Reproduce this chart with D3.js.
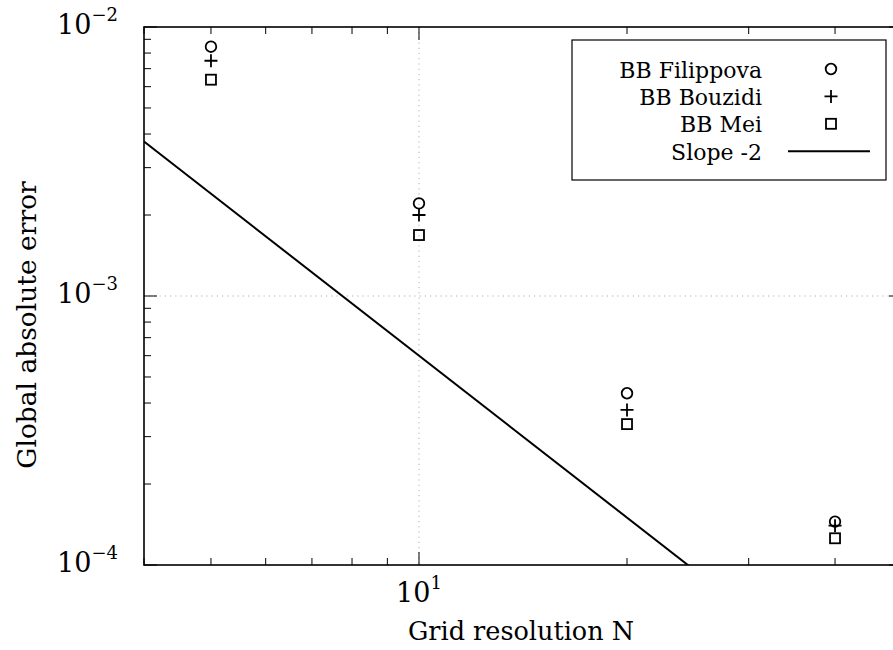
<!DOCTYPE html>
<html>
<head>
<meta charset="utf-8">
<script src="https://cdn.jsdelivr.net/npm/d3@7"></script>
<style>
  body { margin: 0; background: #fff; }
  svg { display: block; font-family: "DejaVu Serif", "Liberation Serif", serif; }
</style>
</head>
<body>
<div id="chart"></div>
<script>
const gridN = [5, 10, 20, 40];
const filippova = [8.45e-3, 2.21e-3, 4.35e-4, 1.45e-4];
const bouzidi = [7.49e-3, 2.0e-3, 3.77e-4, 1.40e-4];
const mei = [6.37e-3, 1.685e-3, 3.34e-4, 1.257e-4];
const slopeN = [4, 50];
const slopeC = 0.06;
const seriesNames = ["BB Filippova", "BB Bouzidi", "BB Mei", "Slope -2"];
const xMajor = [10];
const xMinor = [4, 5, 6, 7, 8, 9, 20, 30, 40];
const yMajor = [1e-2, 1e-3, 1e-4];
const yMinor = [2, 3, 4, 5, 6, 7, 8, 9].flatMap(k => [k * 1e-4, k * 1e-3]);

const width = 893, height = 650;
const margin = { top: 27, right: -9, bottom: 85, left: 144 };

const svg = d3.select("#chart").append("svg")
  .attr("width", width)
  .attr("height", height);

const x = d3.scaleLog().domain([4, 50]).range([margin.left, width - margin.right]);
const y = d3.scaleLog().domain([1e-4, 1e-2]).range([height - margin.bottom, margin.top]);

const [x0, x1] = x.range();
const [y1, y0] = y.range();

svg.append("clipPath").attr("id", "clip")
  .append("rect")
  .attr("x", x0).attr("y", y0)
  .attr("width", x1 - x0).attr("height", y1 - y0);

// grid
svg.append("g")
  .selectAll("line")
  .data(xMajor)
  .join("line")
  .attr("x1", d => x(d)).attr("x2", d => x(d))
  .attr("y1", y0).attr("y2", y1)
  .attr("stroke", "#b0b0b0").attr("stroke-dasharray", "1.2,4");

svg.append("g")
  .selectAll("line")
  .data([1e-3])
  .join("line")
  .attr("x1", x0).attr("x2", x1)
  .attr("y1", d => y(d)).attr("y2", d => y(d))
  .attr("stroke", "#b0b0b0").attr("stroke-dasharray", "1.2,4");

// ticks (inside, mirrored)
const majorLen = 13, minorLen = 7;
const ticks = svg.append("g").attr("stroke", "#000").attr("stroke-width", 1);
const xt = [...xMajor.map(v => [v, majorLen]), ...xMinor.map(v => [v, minorLen])];
const yt = [...yMajor.map(v => [v, majorLen]), ...yMinor.map(v => [v, minorLen])];
xt.forEach(([v, len]) => {
  ticks.append("line").attr("x1", x(v)).attr("x2", x(v)).attr("y1", y1).attr("y2", y1 - len);
  ticks.append("line").attr("x1", x(v)).attr("x2", x(v)).attr("y1", y0).attr("y2", y0 + len);
});
yt.forEach(([v, len]) => {
  ticks.append("line").attr("x1", x0).attr("x2", x0 + len).attr("y1", y(v)).attr("y2", y(v));
  ticks.append("line").attr("x1", x1).attr("x2", x1 - len).attr("y1", y(v)).attr("y2", y(v));
});

// frame
svg.append("rect")
  .attr("x", x0).attr("y", y0)
  .attr("width", x1 - x0).attr("height", y1 - y0)
  .attr("fill", "none").attr("stroke", "#000").attr("stroke-width", 1.6);

// tick labels
function powLabel(sel, exp) {
  sel.append("tspan").text("10");
  sel.append("tspan").attr("dy", -13).attr("font-size", 18).text(exp);
}
yMajor.forEach(v => {
  const t = svg.append("text")
    .attr("x", 118).attr("y", y(v) + 7)
    .attr("text-anchor", "end")
    .attr("font-size", 27);
  powLabel(t, "\u2212" + Math.round(-Math.log10(v)));
});
xMajor.forEach(v => {
  const t = svg.append("text")
    .attr("x", x(v)).attr("y", y1 + 37)
    .attr("text-anchor", "middle")
    .attr("font-size", 27);
  powLabel(t, String(Math.round(Math.log10(v))));
});

// axis titles
svg.append("text")
  .attr("x", 521).attr("y", 640)
  .attr("text-anchor", "middle")
  .attr("font-size", 25.5)
  .text("Grid resolution N");

svg.append("text")
  .attr("transform", "translate(36,325) rotate(-90)")
  .attr("text-anchor", "middle")
  .attr("font-size", 26.5)
  .text("Global absolute error");

// slope line
const line = d3.line().x(d => x(d)).y(d => y(slopeC / (d * d)));
svg.append("path")
  .datum(slopeN)
  .attr("clip-path", "url(#clip)")
  .attr("d", line)
  .attr("fill", "none")
  .attr("stroke", "#000")
  .attr("stroke-width", 2);

// markers
const circle = (g) => g.append("circle").attr("r", 5.3);
const plus = (g) => g.append("path").attr("d", "M-6.5,0H6.5M0,-6.5V6.5");
const square = (g) => g.append("rect").attr("x", -5).attr("y", -5).attr("width", 10).attr("height", 10);
const markers = [circle, plus, square];
const series = [filippova, bouzidi, mei];

series.forEach((vals, i) => {
  const g = svg.append("g")
    .attr("fill", "none").attr("stroke", "#000").attr("stroke-width", 1.8);
  vals.forEach((v, j) => {
    const m = g.append("g").attr("transform", `translate(${x(gridN[j])},${y(v)})`);
    markers[i](m);
  });
});

// legend
const legend = svg.append("g");
legend.append("rect")
  .attr("x", 572).attr("y", 40)
  .attr("width", 314).attr("height", 140)
  .attr("fill", "#fff").attr("stroke", "#000").attr("stroke-width", 1.2);

seriesNames.forEach((name, i) => {
  const cy = 69 + i * 27.4;
  legend.append("text")
    .attr("x", 762).attr("y", cy + 8.5)
    .attr("text-anchor", "end")
    .attr("font-size", 22)
    .text(name);
  const g = legend.append("g")
    .attr("transform", `translate(831,${cy})`)
    .attr("fill", "none").attr("stroke", "#000").attr("stroke-width", 1.8);
  if (i < 3) markers[i](g);
  else g.append("line").attr("x1", -43).attr("x2", 39).attr("stroke-width", 2);
});
</script>
</body>
</html>
